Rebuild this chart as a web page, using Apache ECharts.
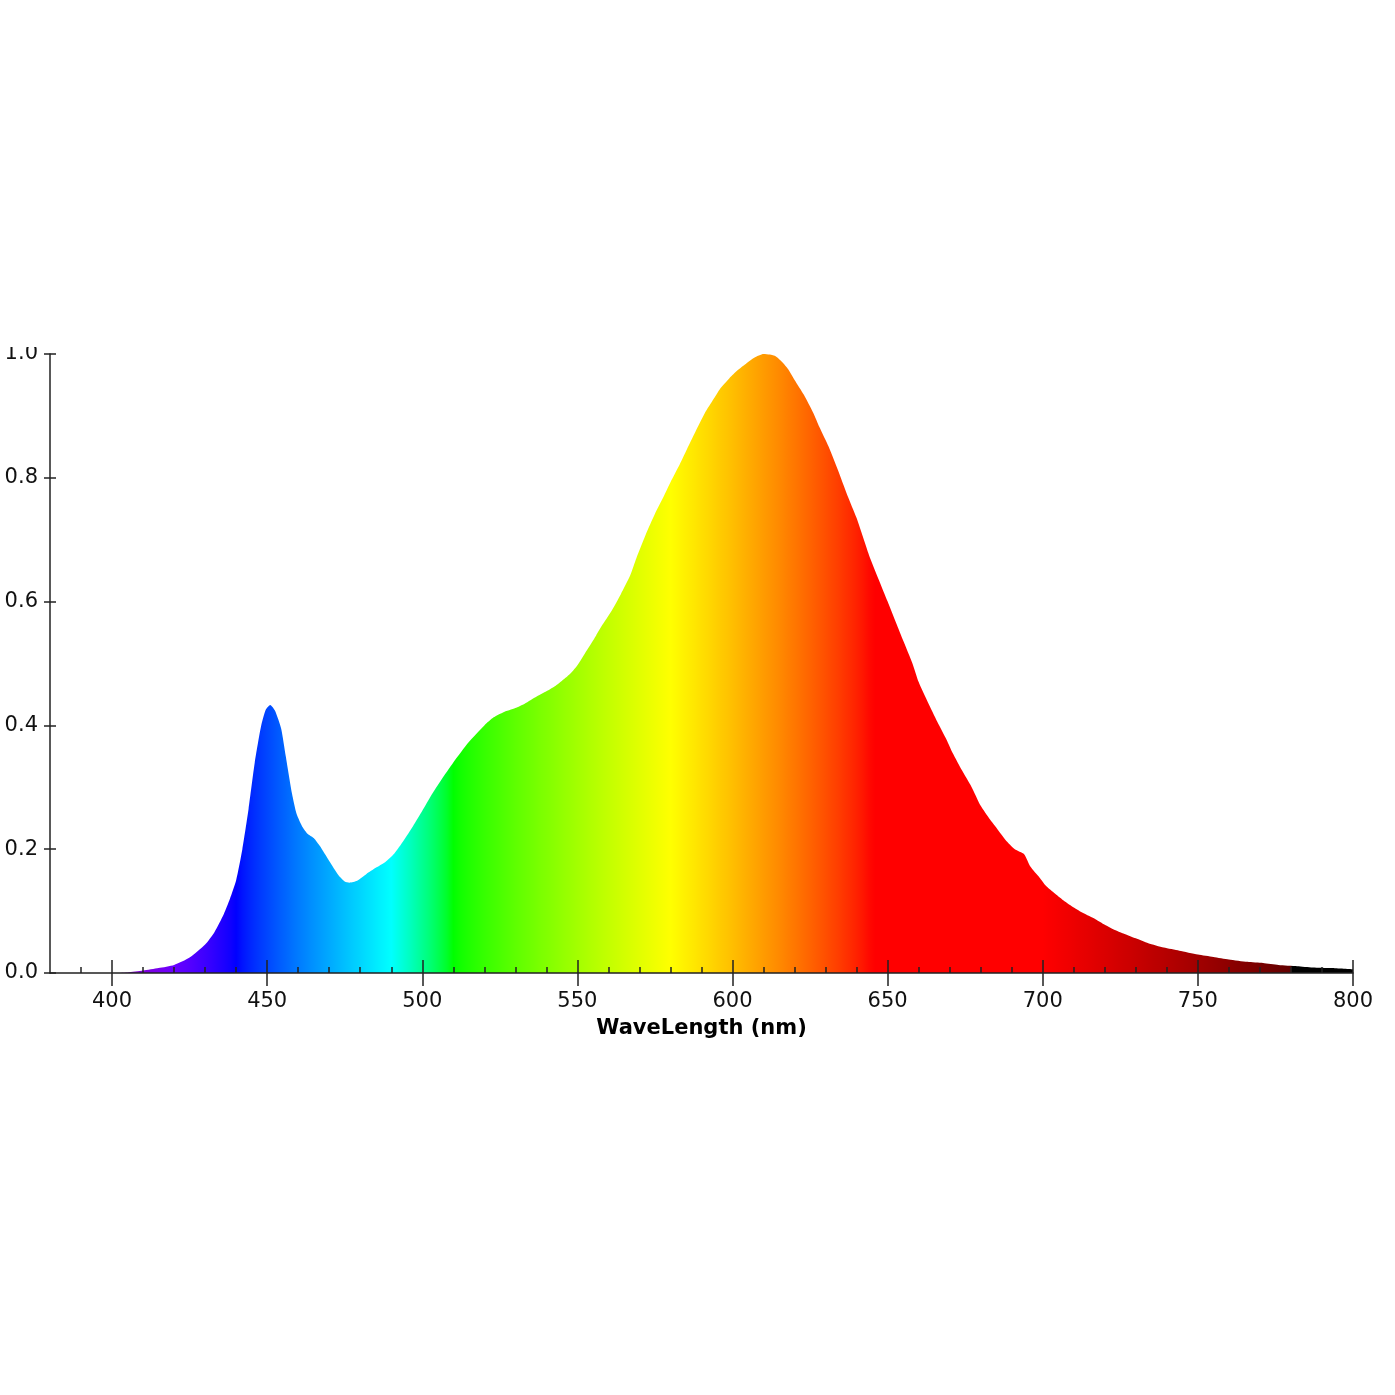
<!DOCTYPE html>
<html>
<head>
<meta charset="utf-8">
<script src="https://cdn.jsdelivr.net/npm/echarts@6/dist/echarts.min.js"></script>
<style>
  html, body { margin: 0; padding: 0; background: #fff; }
  #page { position: relative; width: 1395px; height: 1395px; overflow: hidden; }
  #chart { position: absolute; left: 0; top: 347px; width: 1395px; height: 1048px; }
</style>
</head>
<body>
<div id="page"><div id="chart"></div></div>
<script>
// spectrum: wavelength (nm) and relative intensity
const wavelengths = [
  380, 390, 400, 405, 410, 415, 420, 425, 430, 433, 436, 438, 440, 442, 444, 446, 448, 449.5,
  451, 452.5, 454.5, 456, 458, 459.5, 461.5, 463, 465, 467, 470, 473, 475, 476.5, 479, 482,
  485, 488, 491, 494, 497, 500, 503, 506, 510, 515, 520, 523, 526, 530, 533, 537, 540, 543,
  546, 548, 550, 553, 556, 558, 561, 564, 567, 569, 572, 575, 578, 580, 583, 585, 588, 591,
  594, 596, 599, 601, 604, 607, 610, 612, 614, 616, 618, 620, 623, 626, 628, 631, 634, 637,
  640, 642, 644, 647, 650, 653, 655, 658, 660, 663, 666, 669, 671, 674, 677, 680, 683, 685,
  688, 691, 694, 696, 699, 701, 704, 707, 710, 713, 717, 720, 723, 726, 730, 734, 739, 744,
  750, 755, 760, 766, 771, 776, 782, 787, 793, 800
];
const intensity = [
  0, 0, 0, 0.001, 0.004, 0.008, 0.013, 0.025, 0.046, 0.066, 0.095, 0.12, 0.15, 0.20, 0.265, 0.34, 0.398, 0.425,
  0.433, 0.424, 0.395, 0.35, 0.29, 0.257, 0.235, 0.225, 0.218, 0.205, 0.181, 0.158, 0.148, 0.146, 0.149, 0.160,
  0.170, 0.179, 0.193, 0.214, 0.237, 0.262, 0.288, 0.311, 0.340, 0.373, 0.400, 0.413, 0.421, 0.428, 0.435, 0.447, 0.455, 0.464,
  0.476, 0.485, 0.497, 0.521, 0.545, 0.562, 0.585, 0.612, 0.642, 0.670, 0.708, 0.742, 0.772, 0.793, 0.822, 0.843, 0.874, 0.904,
  0.928, 0.944, 0.961, 0.971, 0.983, 0.994, 1.0, 0.999, 0.996, 0.987, 0.975, 0.958, 0.934, 0.905, 0.882, 0.850, 0.812, 0.772,
  0.735, 0.705, 0.675, 0.637, 0.600, 0.562, 0.537, 0.500, 0.470, 0.437, 0.406, 0.377, 0.355, 0.327, 0.301, 0.270, 0.248, 0.235,
  0.215, 0.200, 0.192, 0.172, 0.154, 0.141, 0.128, 0.116, 0.106, 0.097, 0.087, 0.078, 0.070, 0.064, 0.056, 0.048, 0.041, 0.036,
  0.030, 0.026, 0.022, 0.018, 0.016, 0.013, 0.011, 0.009, 0.008, 0.006
];
const majorTicks = [400, 450, 500, 550, 600, 650, 700, 750, 800];
const minorTicks = [390, 400, 410, 420, 430, 440, 450, 460, 470, 480, 490, 500, 510, 520, 530, 540, 550,
  560, 570, 580, 590, 600, 610, 620, 630, 640, 650, 660, 670, 680, 690, 700, 710, 720, 730, 740, 750,
  760, 770, 780, 790, 800];
const yTicks = [0, 0.2, 0.4, 0.6, 0.8, 1.0];

const X_MIN = 380, X_MAX = 800;
const axisColor = '#222';
const font = 'DejaVu Sans';

// visible-spectrum colour for a wavelength (fill style only)
function spectrumColor(w) {
  let r = 0, g = 0, b = 0;
  if (w < 440) { r = (440 - w) / 60; b = 1; }
  else if (w < 490) { g = (w - 440) / 50; b = 1; }
  else if (w < 510) { g = 1; b = (510 - w) / 20; }
  else if (w < 580) { r = (w - 510) / 70; g = 1; }
  else if (w < 645) { r = 1; g = (645 - w) / 65; }
  else { r = 1; }
  let f = 1;
  if (w > 780) f = 0;
  else if (w > 700) f = 0.3 + 0.7 * (780 - w) / 80;
  else if (w < 420) f = 0.3 + 0.7 * (w - 380) / 40;
  const c = v => Math.round(255 * Math.pow(v * f, 0.8));
  return 'rgb(' + c(r) + ',' + c(g) + ',' + c(b) + ')';
}

const stops = [];
for (let w = X_MIN; w <= X_MAX; w += 2) {
  if (w === 782) stops.push({ offset: (780.3 - X_MIN) / (X_MAX - X_MIN), color: spectrumColor(781) });
  stops.push({ offset: (w - X_MIN) / (X_MAX - X_MIN), color: spectrumColor(w) });
}

const seriesData = wavelengths.map((w, i) => [w, intensity[i]]);

const tickStyle = { color: axisColor, width: 1.5 };

function extraX(ticks, len) {
  return {
    type: 'value', min: X_MIN, max: X_MAX, position: 'bottom', z: 10,
    axisLine: { show: false },
    axisTick: { show: true, inside: true, length: len, customValues: ticks, lineStyle: tickStyle },
    axisLabel: { show: false },
    splitLine: { show: false }
  };
}

const chart = echarts.init(document.getElementById('chart'), null, { renderer: 'canvas' });
chart.setOption({
  backgroundColor: '#fff',
  animation: false,
  grid: { left: 50, right: 42, top: 7, bottom: 422, containLabel: false, outerBoundsMode: 'none' },
  xAxis: [
    {
      type: 'value', min: X_MIN, max: X_MAX, position: 'bottom', z: 10,
      name: 'WaveLength (nm)', nameLocation: 'middle', nameGap: 45,
      nameTextStyle: { fontFamily: font, fontSize: 21, fontWeight: 'bold', color: '#000' },
      axisLine: { show: true, lineStyle: { color: axisColor, width: 1.5 } },
      axisTick: { show: true, inside: false, length: 13, customValues: majorTicks, lineStyle: tickStyle },
      axisLabel: { customValues: majorTicks, fontFamily: font, fontSize: 21, color: '#111', margin: 18 },
      splitLine: { show: false }
    },
    extraX(majorTicks, 13),
    extraX(minorTicks, 6)
  ],
  yAxis: [
    {
      type: 'value', min: 0, max: 1, position: 'left', z: 10,
      axisLine: { show: true, lineStyle: { color: axisColor, width: 1.5 } },
      axisTick: { show: true, inside: false, length: 6, customValues: yTicks, lineStyle: tickStyle },
      axisLabel: {
        customValues: yTicks, fontFamily: font, fontSize: 21, color: '#111', margin: 12,
        formatter: v => v.toFixed(1)
      },
      splitLine: { show: false }
    },
    {
      type: 'value', min: 0, max: 1, position: 'left', z: 10,
      axisLine: { show: false },
      axisTick: { show: true, inside: true, length: 6, customValues: yTicks, lineStyle: tickStyle },
      axisLabel: { show: false },
      splitLine: { show: false }
    }
  ],
  series: [
    {
      type: 'line',
      xAxisIndex: 0,
      yAxisIndex: 0,
      data: seriesData,
      showSymbol: false,
      smooth: 0.2,
      lineStyle: { width: 0 },
      areaStyle: {
        opacity: 1,
        color: new echarts.graphic.LinearGradient(0, 0, 1, 0, stops)
      }
    }
  ]
});
</script>
</body>
</html>
